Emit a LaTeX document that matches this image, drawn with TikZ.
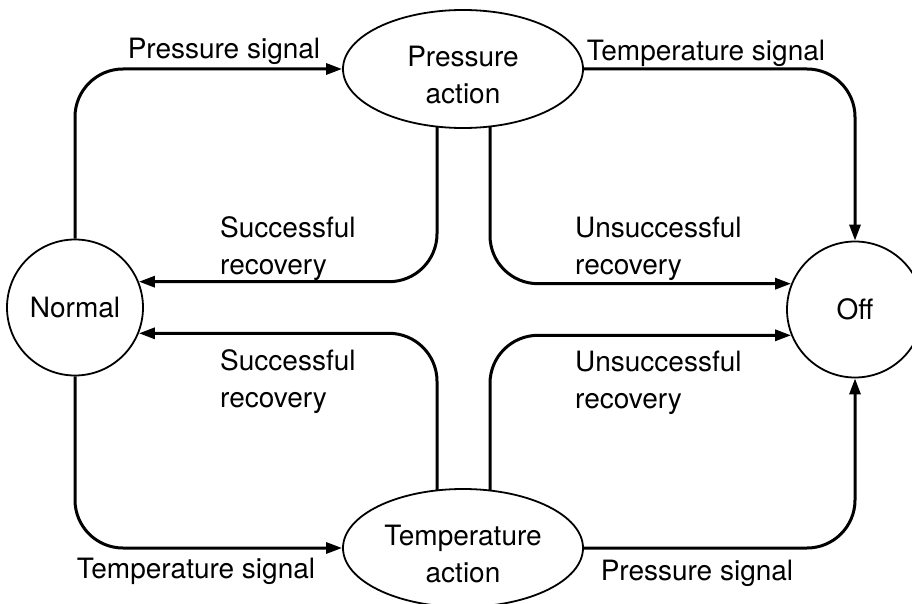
\documentclass[tikz,border=0pt]{standalone}
\usepackage{fontspec}
\setmainfont{TeX Gyre Heros}
\usetikzlibrary{arrows.meta,backgrounds,shapes.geometric}
\newcommand{\topline}{\rule{0pt}{33pt}}
\begin{document}
\begin{tikzpicture}[x=1pt,y=-1pt,
  every node/.style={font=\fontsize{28}{37}\selectfont},
  state/.style={circle,draw,line width=1.8pt,fill=white,minimum size=136pt,inner sep=0pt},
  action/.style={ellipse,draw,line width=1.8pt,fill=white,minimum width=240pt,
    minimum height=118pt,inner sep=0pt,align=center},
  conn/.style={line width=3pt,rounded corners=48pt,-{Triangle[length=16pt,width=11pt]}},
  lbl/.style={inner sep=0pt,align=left}]
\useasboundingbox (0,0) rectangle (912,604);
\clip (0,0) rectangle (912,604);

% states and actions
\node[state] (normal) at (75,307.5) {\raisebox{-2pt}{Normal}};
\node[state] (off) at (855,309.5) {\raisebox{-2pt}{Off}};
\node[action] (pa) at (463,69) {\topline Pressure\\action};
\node[action] (ta) at (463,548) {\topline Temperature\\action};

% x positions of the recovery branches
\coordinate (xl) at (437,0);
\coordinate (xr) at (490,0);

% transition labels
\node[lbl,anchor=base] (l1) at (224,59) {Pressure signal};
\node[lbl,anchor=base] (l2) at (706,61) {Temperature signal};
\node[lbl,anchor=base] (l3) at (196,578) {Temperature signal};
\node[lbl,anchor=base] (l4) at (697,580) {Pressure signal};
\node[lbl,anchor=north west] (l5) at (220,216) {Successful\\recovery};
\node[lbl,anchor=north west] (l6) at (220,349) {Successful\\recovery};
\node[lbl,anchor=north west] (l7) at (575,217) {Unsuccessful\\recovery};
\node[lbl,anchor=north west] (l8) at (575,351) {Unsuccessful\\recovery};

% transitions, drawn beneath the filled nodes
\begin{scope}[on background layer]
\fill[white] (0,0) rectangle (912,604);
\draw[conn] (normal.north) |- (pa.west);
\draw[conn] (pa.east) -| (off.north);
\draw[conn] (pa.center -| xl) |- (normal.22);
\draw[conn] (pa.center -| xr) |- (off.158);
\draw[conn] (ta.center -| xl) |- (normal.-22);
\draw[conn] (ta.center -| xr) |- (off.-158);
\draw[conn] (normal.south) |- (ta.west);
\draw[conn] (ta.east) -| (off.south);
\end{scope}
\end{tikzpicture}
\end{document}
